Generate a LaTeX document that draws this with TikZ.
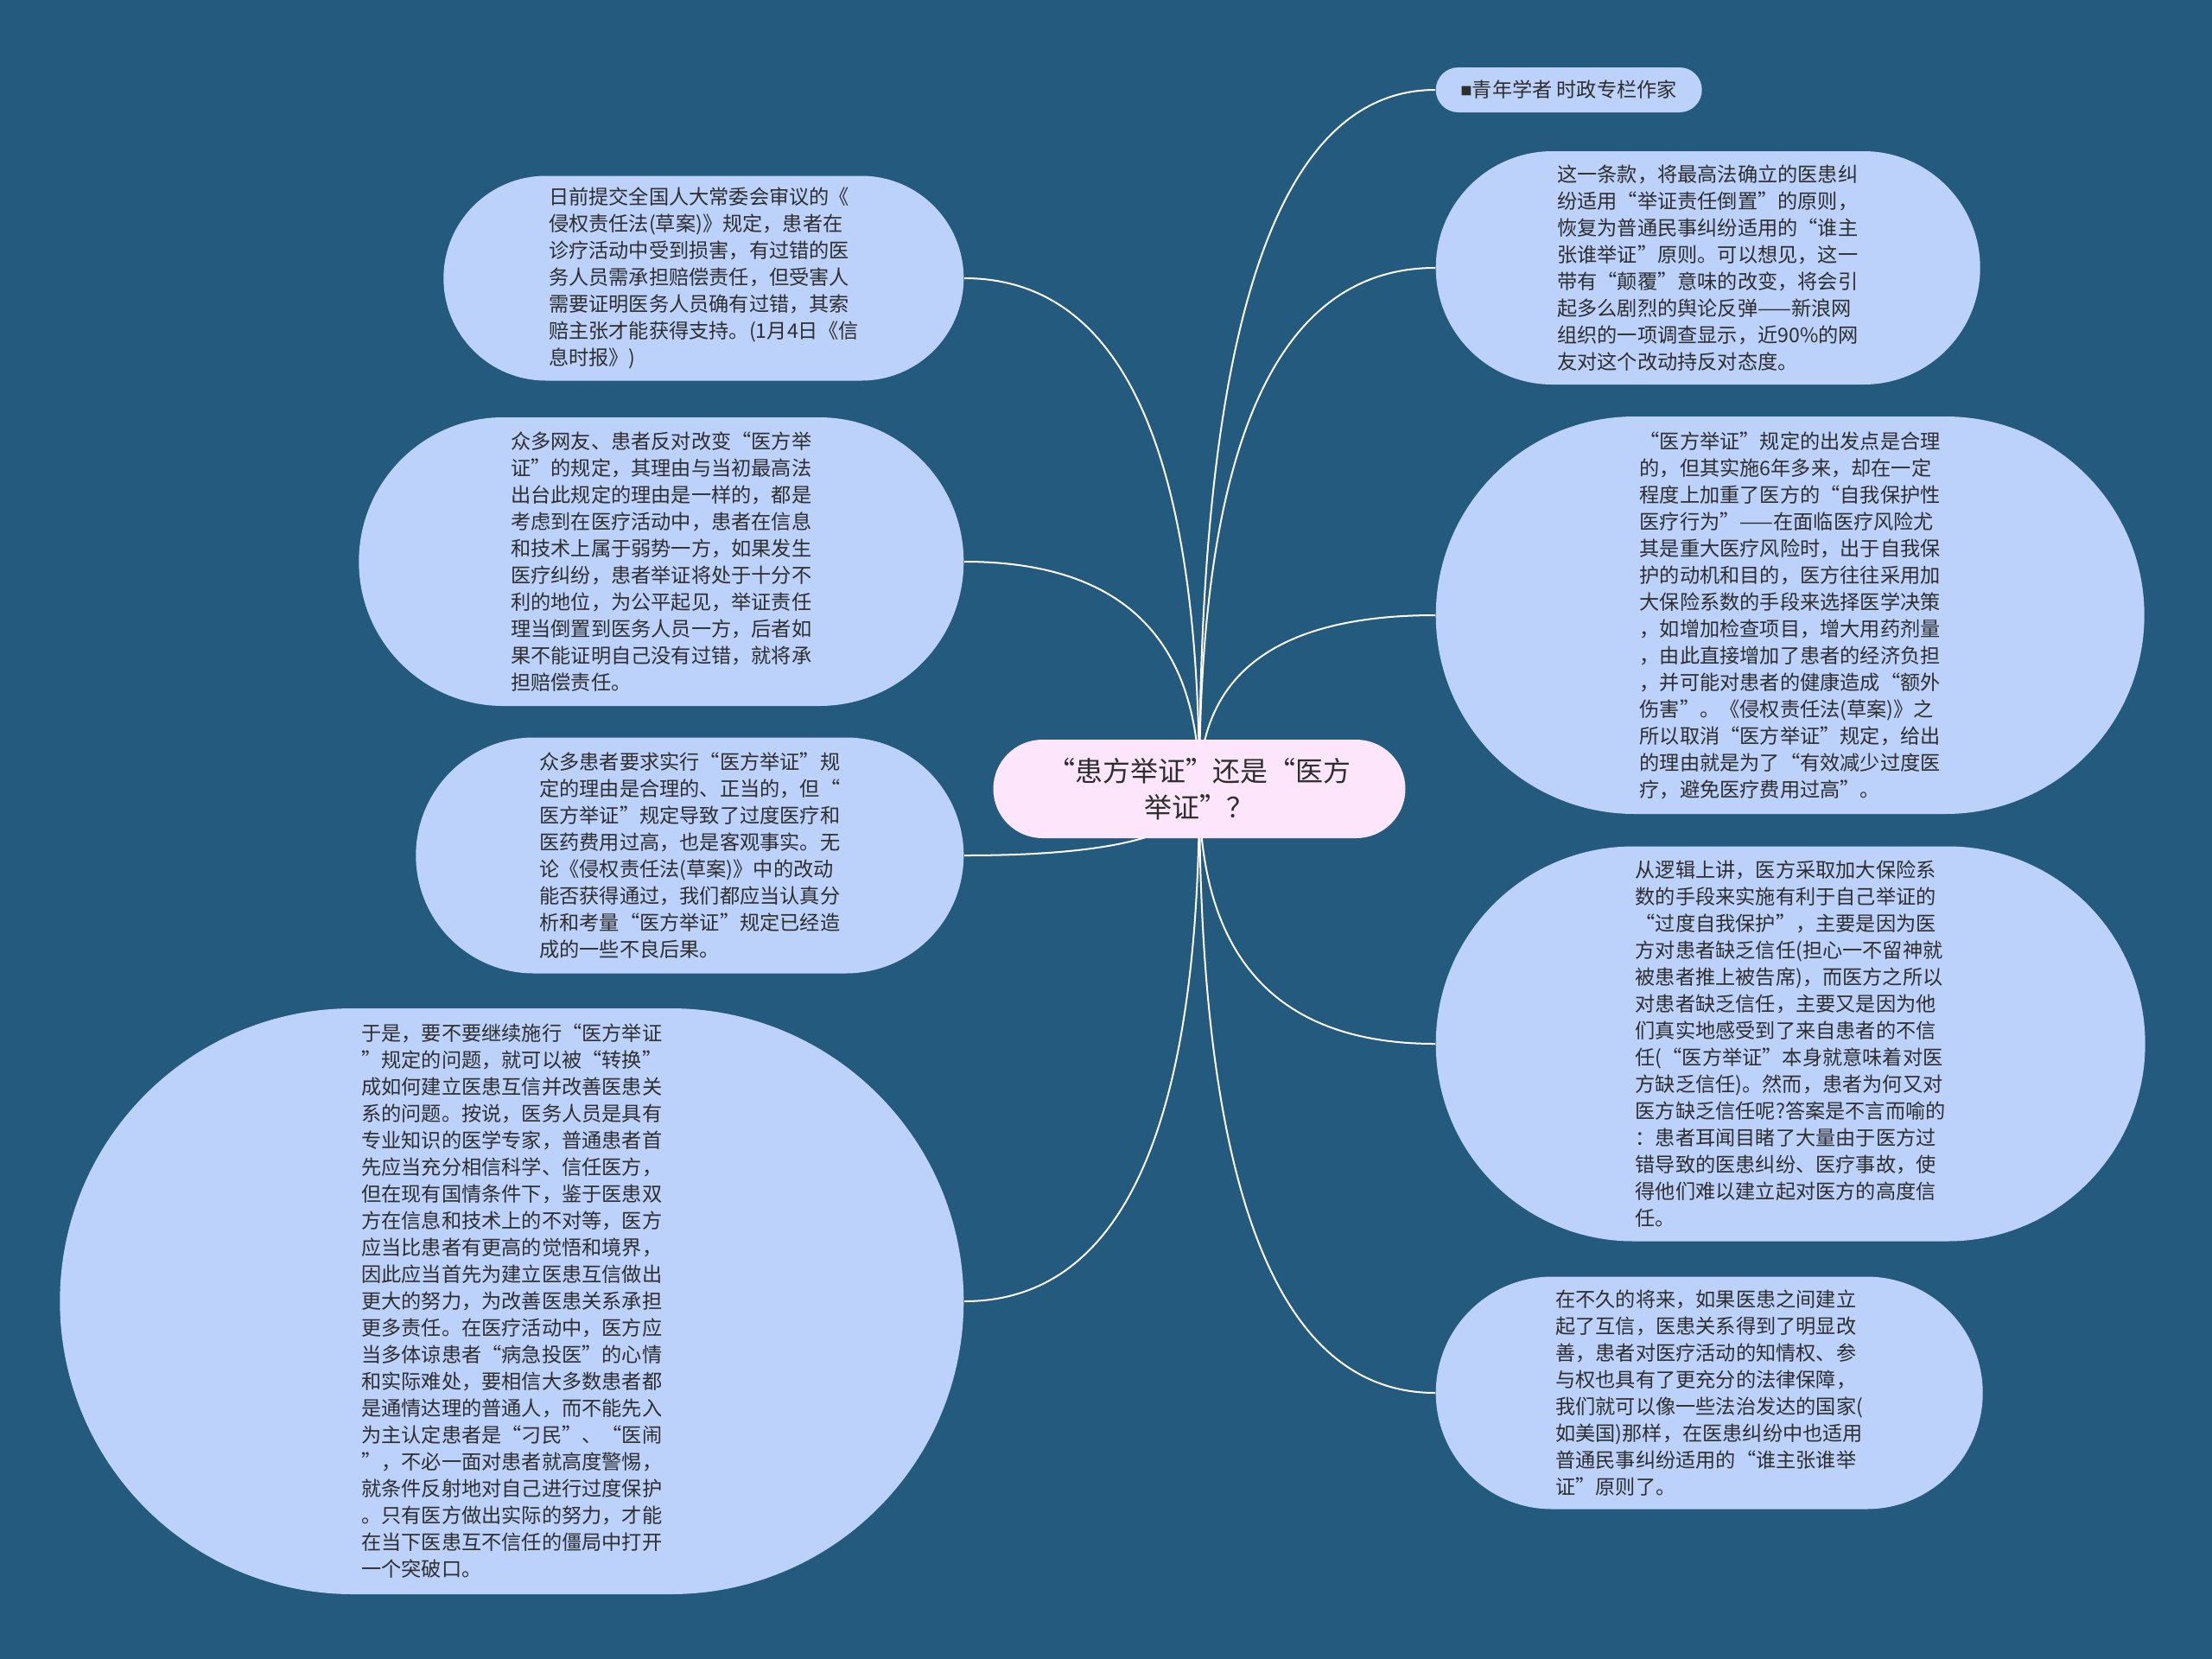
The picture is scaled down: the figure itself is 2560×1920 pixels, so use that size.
\documentclass[tikz,border=0pt]{standalone}
\usepackage{fontspec}
\setmainfont{Noto Sans CJK SC}
\usetikzlibrary{calc}

\definecolor{bgblue}{HTML}{245A7D}
\definecolor{leafblue}{HTML}{BDD2FA}
\definecolor{rootpink}{HTML}{FDE6FB}
\definecolor{inkgray}{HTML}{2E2E2E}

\pgfdeclarelayer{back}
\pgfdeclarelayer{links}
\pgfsetlayers{back,links,main}

\begin{document}
\begin{tikzpicture}[x=0.1mm, y=-0.1mm,
    bubble/.style 2 args={rectangle, minimum width=#1, minimum height=#2, rounded corners=#2/2, inner sep=0.6mm},
    leaf/.style 2 args={bubble={#1}{#2}, fill=leafblue, text=inkgray, align=left,
        font=\fontsize{6.6pt}{8.82pt}\selectfont},
    link/.style={white, line width=0.2mm,
        to path={.. controls ($(\tikztostart)!2/3!(\tikztostart |- \tikztotarget)$)
            and ($(\tikztotarget)!2/3!(\tikztostart |- \tikztotarget)$) .. (\tikztotarget)}}]
    \useasboundingbox (0,0) rectangle (2560,1920);
    \begin{pgfonlayer}{back}
        \fill[bgblue] (0,0) rectangle (2560,1920);
    \end{pgfonlayer}

    % centre
    \node[bubble={47.7mm}{11.4mm}, fill=rootpink, text=inkgray, align=center,
        font=\fontsize{9.1pt}{11.9pt}\selectfont] (root) at (1388,913) {“患方举证”还是“医方\\举证”？};

    % right side
    \node[leaf={30.8mm}{5.2mm}, anchor=west] (r1) at (1661,104) {\raisebox{0.7pt}{\fontsize{3.8pt}{3.8pt}\selectfont ■}青年学者 时政专栏作家};
    \node[leaf={63mm}{27mm}, anchor=west] (r2) at (1661,310) {这一条款，将最高法确立的医患纠\\纷适用“举证责任倒置”的原则，\\恢复为普通民事纠纷适用的“谁主\\张谁举证”原则。可以想见，这一\\带有“颠覆”意味的改变，将会引\\起多么剧烈的舆论反弹——新浪网\\组织的一项调查显示，近90\%的网\\友对这个改动持反对态度。};
    \node[leaf={82mm}{46mm}, anchor=west] (r3) at (1661,712) {“医方举证”规定的出发点是合理\\的，但其实施6年多来，却在一定\\程度上加重了医方的“自我保护性\\医疗行为”——在面临医疗风险尤\\其是重大医疗风险时，出于自我保\\护的动机和目的，医方往往采用加\\大保险系数的手段来选择医学决策\\，如增加检查项目，增大用药剂量\\，由此直接增加了患者的经济负担\\，并可能对患者的健康造成“额外\\伤害”。《侵权责任法(草案)》之\\所以取消“医方举证”规定，给出\\的理由就是为了“有效减少过度医\\疗，避免医疗费用过高”。};
    \node[leaf={82.1mm}{45.7mm}, anchor=west] (r4) at (1661,1208) {从逻辑上讲，医方采取加大保险系\\数的手段来实施有利于自己举证的\\“过度自我保护”，主要是因为医\\方对患者缺乏信任(担心一不留神就\\被患者推上被告席)，而医方之所以\\对患者缺乏信任，主要又是因为他\\们真实地感受到了来自患者的不信\\任(“医方举证”本身就意味着对医\\方缺乏信任)。然而，患者为何又对\\医方缺乏信任呢?答案是不言而喻的\\：患者耳闻目睹了大量由于医方过\\错导致的医患纠纷、医疗事故，使\\得他们难以建立起对医方的高度信\\任。};
    \node[leaf={63.3mm}{26.9mm}, anchor=west] (r5) at (1661,1612) {在不久的将来，如果医患之间建立\\起了互信，医患关系得到了明显改\\善，患者对医疗活动的知情权、参\\与权也具有了更充分的法律保障，\\我们就可以像一些法治发达的国家(\\如美国)那样，在医患纠纷中也适用\\普通民事纠纷适用的“谁主张谁举\\证”原则了。};

    % left side
    \node[leaf={60.2mm}{23.7mm}, anchor=east] (l1) at (1116,322) {日前提交全国人大常委会审议的《\\侵权责任法(草案)》规定，患者在\\诊疗活动中受到损害，有过错的医\\务人员需承担赔偿责任，但受害人\\需要证明医务人员确有过错，其索\\赔主张才能获得支持。(1月4日《信\\息时报》)};
    \node[leaf={70mm}{33.4mm}, anchor=east] (l2) at (1116,650) {众多网友、患者反对改变“医方举\\证”的规定，其理由与当初最高法\\出台此规定的理由是一样的，都是\\考虑到在医疗活动中，患者在信息\\和技术上属于弱势一方，如果发生\\医疗纠纷，患者举证将处于十分不\\利的地位，为公平起见，举证责任\\理当倒置到医务人员一方，后者如\\果不能证明自己没有过错，就将承\\担赔偿责任。};
    \node[leaf={63.4mm}{27.3mm}, anchor=east] (l3) at (1116,990) {众多患者要求实行“医方举证”规\\定的理由是合理的、正当的，但“\\医方举证”规定导致了过度医疗和\\医药费用过高，也是客观事实。无\\论《侵权责任法(草案)》中的改动\\能否获得通过，我们都应当认真分\\析和考量“医方举证”规定已经造\\成的一些不良后果。};
    \node[leaf={104.6mm}{67.8mm}, anchor=east] (l4) at (1116,1506) {于是，要不要继续施行“医方举证\\”规定的问题，就可以被“转换”\\成如何建立医患互信并改善医患关\\系的问题。按说，医务人员是具有\\专业知识的医学专家，普通患者首\\先应当充分相信科学、信任医方，\\但在现有国情条件下，鉴于医患双\\方在信息和技术上的不对等，医方\\应当比患者有更高的觉悟和境界，\\因此应当首先为建立医患互信做出\\更大的努力，为改善医患关系承担\\更多责任。在医疗活动中，医方应\\当多体谅患者“病急投医”的心情\\和实际难处，要相信大多数患者都\\是通情达理的普通人，而不能先入\\为主认定患者是“刁民”、“医闹\\”，不必一面对患者就高度警惕，\\就条件反射地对自己进行过度保护\\。只有医方做出实际的努力，才能\\在当下医患互不信任的僵局中打开\\一个突破口。};

    % connectors
    \begin{pgfonlayer}{links}
        \foreach \bub in {r1,r2,r3,r4,r5}
            \draw[link] (root.center) to (\bub.west);
        \foreach \bub in {l1,l2,l3,l4}
            \draw[link] (root.center) to (\bub.east);
    \end{pgfonlayer}
\end{tikzpicture}
\end{document}
